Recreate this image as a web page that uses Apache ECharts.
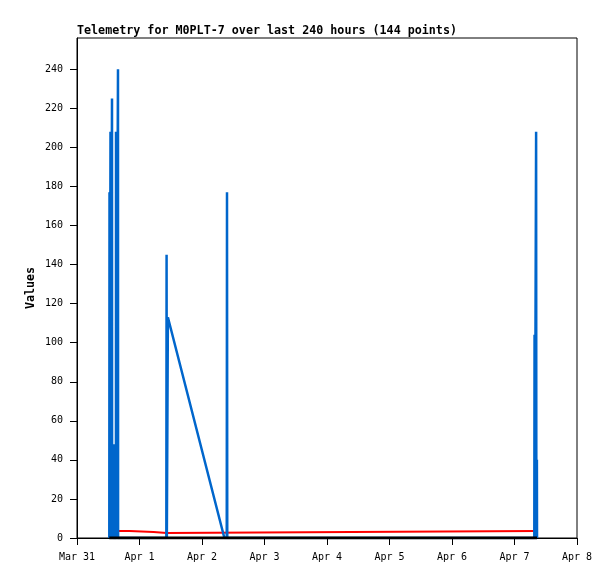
<!DOCTYPE html>
<html>
<head>
<meta charset="utf-8">
<script src="https://cdn.jsdelivr.net/npm/echarts@6/dist/echarts.min.js"></script>
<style>html,body{margin:0;padding:0;background:#fff}#c{width:615px;height:579px}</style>
</head>
<body>
<div id="c"></div>
<script>
// x values are hours since Mar 31 00:00
const dayLabels = ['Mar 31','Apr 1','Apr 2','Apr 3','Apr 4','Apr 5','Apr 6','Apr 7','Apr 8'];
const yTicks = [0,20,40,60,80,100,120,140,160,180,200,220,240];

const blueHours  = [12.40,12.48,12.56,12.82,12.86,12.90,13.40,13.44,13.48,13.95,14.00,14.05,14.95,14.98,15.02,15.70,15.74,15.78,34.30,34.40,34.50,34.90,56.60,57.50,57.60,57.70,175.60,175.70,175.80,176.20,176.30,176.40,176.55,176.60,176.65];
const blueValues = [0,177,0,0,208,0,0,225,0,0,48,0,0,208,0,0,240,0,0,145,0,113,0,0,177,0,0,104,0,0,208,0,0,40,0];

const redHours  = [14.0,20.2,29.4,34.4,176.3];
const redValues = [3.6,3.1,2.6,3.6,3.6];

const blackHours  = [12.4,176.65];
const blackValues = [0,0];

const zip = (a,b) => a.map((v,i)=>[v,b[i]]);

const FONT = 'DejaVu Sans Mono';
const chart = echarts.init(document.getElementById('c'), null, {renderer:'canvas'});
chart.setOption({
  animation: false,
  backgroundColor: '#fff',
  title: {
    text: 'Telemetry for M0PLT-7 over last 240 hours (144 points)',
    left: 77, top: 25, padding: 0,
    textStyle: {fontFamily: FONT, fontSize: 11.7, fontWeight: 'bold', color: '#000'}
  },
  grid: {left: 77, top: 38, width: 500, height: 500, show: true, borderColor: '#000', borderWidth: 1, backgroundColor: 'transparent'},
  xAxis: {
    type: 'value', min: 0, max: 192, interval: 24,
    axisLine: {show: true, lineStyle: {color: '#000', width: 1}},
    axisTick: {show: true, length: 7, lineStyle: {color: '#000'}},
    splitLine: {show: false},
    axisLabel: {
      margin: 14, color: '#000', fontFamily: FONT, fontSize: 10,
      formatter: v => dayLabels[Math.round(v/24)] || ''
    }
  },
  yAxis: {
    type: 'value', min: 0, max: 256,
    name: 'Values', nameLocation: 'middle', nameGap: 40, nameMoveOverlap: false,
    nameTextStyle: {fontFamily: FONT, fontSize: 11.7, fontWeight: 'bold', color: '#000'},
    axisLine: {show: true, lineStyle: {color: '#000', width: 1}},
    axisTick: {show: true, length: 7, lineStyle: {color: '#000'}, customValues: yTicks},
    splitLine: {show: false},
    axisLabel: {margin: 14, color: '#000', fontFamily: FONT, fontSize: 10, customValues: yTicks}
  },
  series: [
    {type: 'line', step: 'end', data: zip(redHours, redValues), showSymbol: false, lineStyle: {color: '#ff0000', width: 2}, itemStyle: {color: '#ff0000'}},
    {type: 'line', data: zip(blueHours, blueValues), showSymbol: false, lineStyle: {color: '#0066cc', width: 2.5}, itemStyle: {color: '#0066cc'}},
    {type: 'line', data: zip(blackHours, blackValues), showSymbol: false, lineStyle: {color: '#000000', width: 3}, itemStyle: {color: '#000'}}
  ]
});
</script>
</body>
</html>
